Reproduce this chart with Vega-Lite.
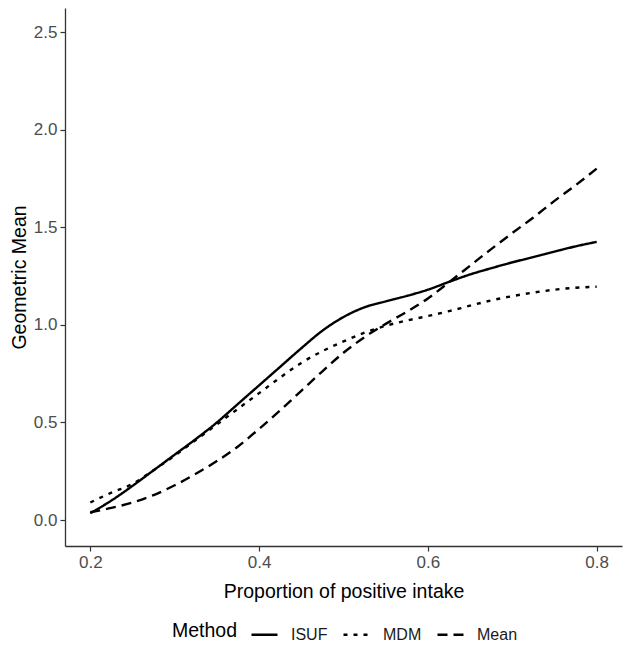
{
  "$schema": "https://vega.github.io/schema/vega-lite/v6.json",
  "width": 557,
  "height": 538,
  "autosize": {"type": "none"},
  "padding": {"left": 65, "top": 8, "right": 8, "bottom": 115},
  "background": "white",
  "config": {
    "view": {"stroke": null},
    "font": "Liberation Sans",
    "axis": {
      "grid": false,
      "domainColor": "#333333",
      "domainWidth": 1.3,
      "tickColor": "#333333",
      "tickWidth": 1.2,
      "tickSize": 5,
      "labelColor": "#4d4d4d",
      "labelFontSize": 17,
      "labelPadding": 3,
      "titleColor": "#000000",
      "titleFontSize": 19.5,
      "titleFontWeight": "normal"
    }
  },
  "datasets": {
    "curves": [
      {"Method": "ISUF", "p": 0.2, "gm": 0.035},
      {"Method": "ISUF", "p": 0.225, "gm": 0.1},
      {"Method": "ISUF", "p": 0.25, "gm": 0.175},
      {"Method": "ISUF", "p": 0.275, "gm": 0.255},
      {"Method": "ISUF", "p": 0.3, "gm": 0.335},
      {"Method": "ISUF", "p": 0.325, "gm": 0.415},
      {"Method": "ISUF", "p": 0.35, "gm": 0.5},
      {"Method": "ISUF", "p": 0.375, "gm": 0.595},
      {"Method": "ISUF", "p": 0.4, "gm": 0.69},
      {"Method": "ISUF", "p": 0.425, "gm": 0.785},
      {"Method": "ISUF", "p": 0.45, "gm": 0.88},
      {"Method": "ISUF", "p": 0.475, "gm": 0.97},
      {"Method": "ISUF", "p": 0.5, "gm": 1.04},
      {"Method": "ISUF", "p": 0.525, "gm": 1.09},
      {"Method": "ISUF", "p": 0.55, "gm": 1.12},
      {"Method": "ISUF", "p": 0.575, "gm": 1.148},
      {"Method": "ISUF", "p": 0.6, "gm": 1.18},
      {"Method": "ISUF", "p": 0.625, "gm": 1.22},
      {"Method": "ISUF", "p": 0.65, "gm": 1.258},
      {"Method": "ISUF", "p": 0.675, "gm": 1.29},
      {"Method": "ISUF", "p": 0.7, "gm": 1.32},
      {"Method": "ISUF", "p": 0.725, "gm": 1.347},
      {"Method": "ISUF", "p": 0.75, "gm": 1.375},
      {"Method": "ISUF", "p": 0.775, "gm": 1.402},
      {"Method": "ISUF", "p": 0.8, "gm": 1.425},
      {"Method": "MDM", "p": 0.2, "gm": 0.09},
      {"Method": "MDM", "p": 0.225, "gm": 0.14},
      {"Method": "MDM", "p": 0.25, "gm": 0.185},
      {"Method": "MDM", "p": 0.275, "gm": 0.255},
      {"Method": "MDM", "p": 0.3, "gm": 0.33},
      {"Method": "MDM", "p": 0.325, "gm": 0.41},
      {"Method": "MDM", "p": 0.35, "gm": 0.49},
      {"Method": "MDM", "p": 0.375, "gm": 0.57},
      {"Method": "MDM", "p": 0.4, "gm": 0.65},
      {"Method": "MDM", "p": 0.425, "gm": 0.73},
      {"Method": "MDM", "p": 0.45, "gm": 0.805},
      {"Method": "MDM", "p": 0.475, "gm": 0.865},
      {"Method": "MDM", "p": 0.5, "gm": 0.915},
      {"Method": "MDM", "p": 0.525, "gm": 0.96},
      {"Method": "MDM", "p": 0.55, "gm": 0.995},
      {"Method": "MDM", "p": 0.575, "gm": 1.022},
      {"Method": "MDM", "p": 0.6, "gm": 1.045},
      {"Method": "MDM", "p": 0.625, "gm": 1.07},
      {"Method": "MDM", "p": 0.65, "gm": 1.098},
      {"Method": "MDM", "p": 0.675, "gm": 1.125},
      {"Method": "MDM", "p": 0.7, "gm": 1.147},
      {"Method": "MDM", "p": 0.725, "gm": 1.165},
      {"Method": "MDM", "p": 0.75, "gm": 1.18},
      {"Method": "MDM", "p": 0.775, "gm": 1.19},
      {"Method": "MDM", "p": 0.8, "gm": 1.195},
      {"Method": "Mean", "p": 0.2, "gm": 0.04},
      {"Method": "Mean", "p": 0.225, "gm": 0.062},
      {"Method": "Mean", "p": 0.25, "gm": 0.09},
      {"Method": "Mean", "p": 0.275, "gm": 0.128},
      {"Method": "Mean", "p": 0.3, "gm": 0.178},
      {"Method": "Mean", "p": 0.325, "gm": 0.237},
      {"Method": "Mean", "p": 0.35, "gm": 0.302},
      {"Method": "Mean", "p": 0.375, "gm": 0.377},
      {"Method": "Mean", "p": 0.4, "gm": 0.467},
      {"Method": "Mean", "p": 0.425, "gm": 0.562},
      {"Method": "Mean", "p": 0.45, "gm": 0.662},
      {"Method": "Mean", "p": 0.475, "gm": 0.762},
      {"Method": "Mean", "p": 0.5, "gm": 0.857},
      {"Method": "Mean", "p": 0.525, "gm": 0.937},
      {"Method": "Mean", "p": 0.55, "gm": 1.005},
      {"Method": "Mean", "p": 0.575, "gm": 1.067},
      {"Method": "Mean", "p": 0.6, "gm": 1.135},
      {"Method": "Mean", "p": 0.625, "gm": 1.218},
      {"Method": "Mean", "p": 0.65, "gm": 1.303},
      {"Method": "Mean", "p": 0.675, "gm": 1.388},
      {"Method": "Mean", "p": 0.7, "gm": 1.47},
      {"Method": "Mean", "p": 0.725, "gm": 1.55},
      {"Method": "Mean", "p": 0.75, "gm": 1.635},
      {"Method": "Mean", "p": 0.775, "gm": 1.715},
      {"Method": "Mean", "p": 0.8, "gm": 1.8}
    ]
  },
  "data": {"name": "curves"},
  "mark": {"type": "line", "color": "black", "strokeWidth": 2.4, "interpolate": "monotone"},
  "encoding": {
    "x": {
      "field": "p",
      "type": "quantitative",
      "scale": {"domain": [0.17, 0.83], "nice": false, "zero": false},
      "axis": {"values": [0.2, 0.4, 0.6, 0.8], "format": ".1f", "title": "Proportion of positive intake", "titleY": 51, "titleBaseline": "alphabetic"}
    },
    "y": {
      "field": "gm",
      "type": "quantitative",
      "scale": {"domain": [-0.133, 2.623], "nice": false, "zero": false},
      "axis": {"values": [0, 0.5, 1, 1.5, 2, 2.5], "format": ".1f", "title": "Geometric Mean", "titleX": -40, "titleBaseline": "alphabetic"}
    },
    "strokeDash": {
      "field": "Method",
      "type": "nominal",
      "scale": {"domain": ["ISUF", "MDM", "Mean"], "range": [[1, 0], [4, 6], [10, 6]]},
      "legend": {
        "orient": "none",
        "legendX": 107,
        "legendY": 612,
        "direction": "horizontal",
        "title": "Method",
        "titleOrient": "left",
        "titleFontSize": 19.5,
        "titleFontWeight": "normal",
        "titleColor": "#000000",
        "titlePadding": 12,
        "labelFontSize": 16,
        "labelColor": "#1a1a1a",
        "labelOffset": 12,
        "columnPadding": 10,
        "symbolType": "stroke",
        "symbolSize": 676,
        "symbolStrokeWidth": 2.4,
        "symbolStrokeColor": "black"
      }
    }
  }
}
